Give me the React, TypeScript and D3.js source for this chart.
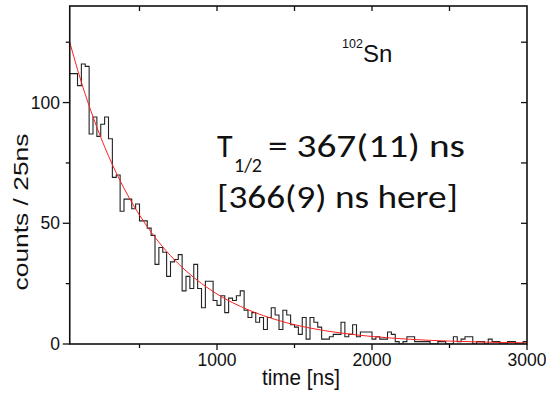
import React from "react";
import * as d3 from "d3";

// Histogram: counts per 25 ns bin, bins starting at 50 ns
const BIN_START = 50;
const BIN_WIDTH = 25;
const counts = [
  112, 112, 107, 116, 115, 87, 94, 86, 91, 94,
  85, 69, 70, 55, 60, 60, 56, 58, 51, 51,
  48, 45, 33, 40, 38, 28, 34, 35, 37, 22,
  28, 23, 33, 23, 15, 26, 26, 18, 16, 20,
  13, 19, 18, 20, 22, 14, 11, 13, 9, 11,
  6, 11, 15, 12, 6, 14, 12, 8, 7, 4,
  11, 2, 11, 9, 7, 2, 2, 3, 4, 4,
  9, 3, 4, 8, 3, 5, 5, 5, 2, 3,
  2, 2, 5, 4, 1, 0, 1, 3, 3, 1,
  1, 1, 1, 0, 0, 1, 1, 0, 0, 3,
  1, 2, 3, 3, 0, 1, 1, 0, 2, 1,
  1, 0, 0, 1, 1, 0, 0, 1,
];

// Fit curve
const fitTimes = [50, 100, 150, 200, 300, 400, 500, 600, 700, 800, 1000, 1200, 1400, 1600, 1800, 2000, 2250, 2500, 2750, 3000];
const fitCounts = [125, 113.7, 103.4, 94.1, 77.9, 64.5, 53.4, 44.2, 36.6, 30.3, 20.7, 14.2, 9.7, 6.6, 4.56, 3.11, 1.93, 1.2, 0.75, 0.47];

const xMajorTicks = [1000, 2000, 3000];
const xMinorTicks = [500, 1500, 2500];
const yMajorTicks = [0, 50, 100];
const yMinorTicks = [25, 75, 125];

const X_DOMAIN = [50, 3000];
const Y_DOMAIN = [0, 140];

export default function App() {
  const W = 546;
  const H = 395;
  const left = 69.75, right = 527, top = 6, bottom = 344;
  const x = d3.scaleLinear().domain(X_DOMAIN).range([left, right]);
  const y = d3.scaleLinear().domain(Y_DOMAIN).range([bottom, top]);

  const pts: [number, number][] = counts.map((c, i) => [BIN_START + i * BIN_WIDTH, c]);
  pts.push([BIN_START + counts.length * BIN_WIDTH, counts[counts.length - 1]]);
  const histPath = d3
    .line<[number, number]>()
    .x((d) => x(d[0]))
    .y((d) => y(d[1]))
    .curve(d3.curveStepAfter)(pts) as string;

  const fitPath = d3
    .line<number>()
    .x((_, i) => x(fitTimes[i]))
    .y((d) => y(d))
    .curve(d3.curveMonotoneX)(fitCounts) as string;

  const sans = "'Liberation Sans', Arial, sans-serif";
  const big = "Carlito, Calibri, 'Open Sans', Lato, sans-serif";

  return (
    <svg
      width={W}
      height={H}
      viewBox={`0 0 ${W} ${H}`}
      style={{ position: "absolute", left: 0, top: 0, background: "#fff" }}
    >
      <defs>
        <clipPath id="plot">
          <rect x={left} y={top} width={right - left} height={bottom - top} />
        </clipPath>
      </defs>
      <rect width={W} height={H} fill="#fff" />

      <g clipPath="url(#plot)">
        <path d={histPath} fill="none" stroke="#222" strokeWidth={1.1} />
        <path d={fitPath} fill="none" stroke="#ff2020" strokeWidth={1} />
      </g>

      {/* frame */}
      <rect x={left} y={top} width={right - left} height={bottom - top} fill="none" stroke="#111" strokeWidth={1.6} />

      {/* bottom ticks (outward) */}
      {xMajorTicks.map((t) => (
        <line key={"xm" + t} x1={x(t)} x2={x(t)} y1={bottom} y2={bottom + 6} stroke="#111" strokeWidth={1.3} />
      ))}
      {xMinorTicks.map((t) => (
        <line key={"xn" + t} x1={x(t)} x2={x(t)} y1={bottom} y2={bottom + 4} stroke="#111" strokeWidth={1.3} />
      ))}
      {/* top ticks (inward) */}
      {[...xMinorTicks, ...xMajorTicks].filter((t) => t < 3000).map((t) => (
        <line key={"xt" + t} x1={x(t)} x2={x(t)} y1={top} y2={top + 5} stroke="#111" strokeWidth={1.3} />
      ))}
      {/* left ticks (outward) */}
      {yMajorTicks.map((v) => (
        <line key={"ym" + v} x1={left - 7} x2={left} y1={y(v)} y2={y(v)} stroke="#111" strokeWidth={1.3} />
      ))}
      {yMinorTicks.map((v) => (
        <line key={"yn" + v} x1={left - 4} x2={left} y1={y(v)} y2={y(v)} stroke="#111" strokeWidth={1.3} />
      ))}
      {/* right ticks (inward) */}
      {[...yMinorTicks, ...yMajorTicks].filter((v) => v > 0).map((v) => (
        <line key={"yr" + v} x1={right - 6} x2={right} y1={y(v)} y2={y(v)} stroke="#111" strokeWidth={1.3} />
      ))}

      {/* tick labels */}
      {yMajorTicks.map((v) => (
        <text key={"yl" + v} x={60} y={y(v) + 6} textAnchor="end" fontFamily={sans} fontSize={17.5} fill="#111">
          {v}
        </text>
      ))}
      {xMajorTicks.map((t) => (
        <text key={"xl" + t} x={x(t)} y={366} textAnchor="middle" fontFamily={sans} fontSize={17.5} fill="#111">
          {t}
        </text>
      ))}

      {/* axis titles */}
      <text x={301} y={385} textAnchor="middle" fontFamily={sans} fontSize={22} textLength={78} lengthAdjust="spacingAndGlyphs" fill="#111">
        time [ns]
      </text>
      <text
        transform="translate(28,212) rotate(-90)"
        textAnchor="middle"
        fontFamily={sans}
        fontSize={20}
        textLength={157}
        lengthAdjust="spacingAndGlyphs"
        fill="#111"
      >
        counts / 25ns
      </text>

      {/* isotope label */}
      <text x={342} y={48} fontFamily={sans} fontSize={12.5} fill="#111">102</text>
      <text x={363} y={62} fontFamily={sans} fontSize={24} fill="#111">Sn</text>

      {/* half-life annotation */}
      <text x={217} y={157} fontFamily={big} fontSize={32} fill="#111">T</text>
      <text x={234} y={172} fontFamily={big} fontSize={21} textLength={28} lengthAdjust="spacingAndGlyphs" fill="#111">1/2</text>
      <text x={268} y={157} fontFamily={big} fontSize={32} textLength={197} lengthAdjust="spacingAndGlyphs" fill="#111">= 367(11) ns</text>
      <text x={217} y={208} fontFamily={big} fontSize={32} textLength={241} lengthAdjust="spacingAndGlyphs" fill="#111">[366(9) ns here]</text>
    </svg>
  );
}
